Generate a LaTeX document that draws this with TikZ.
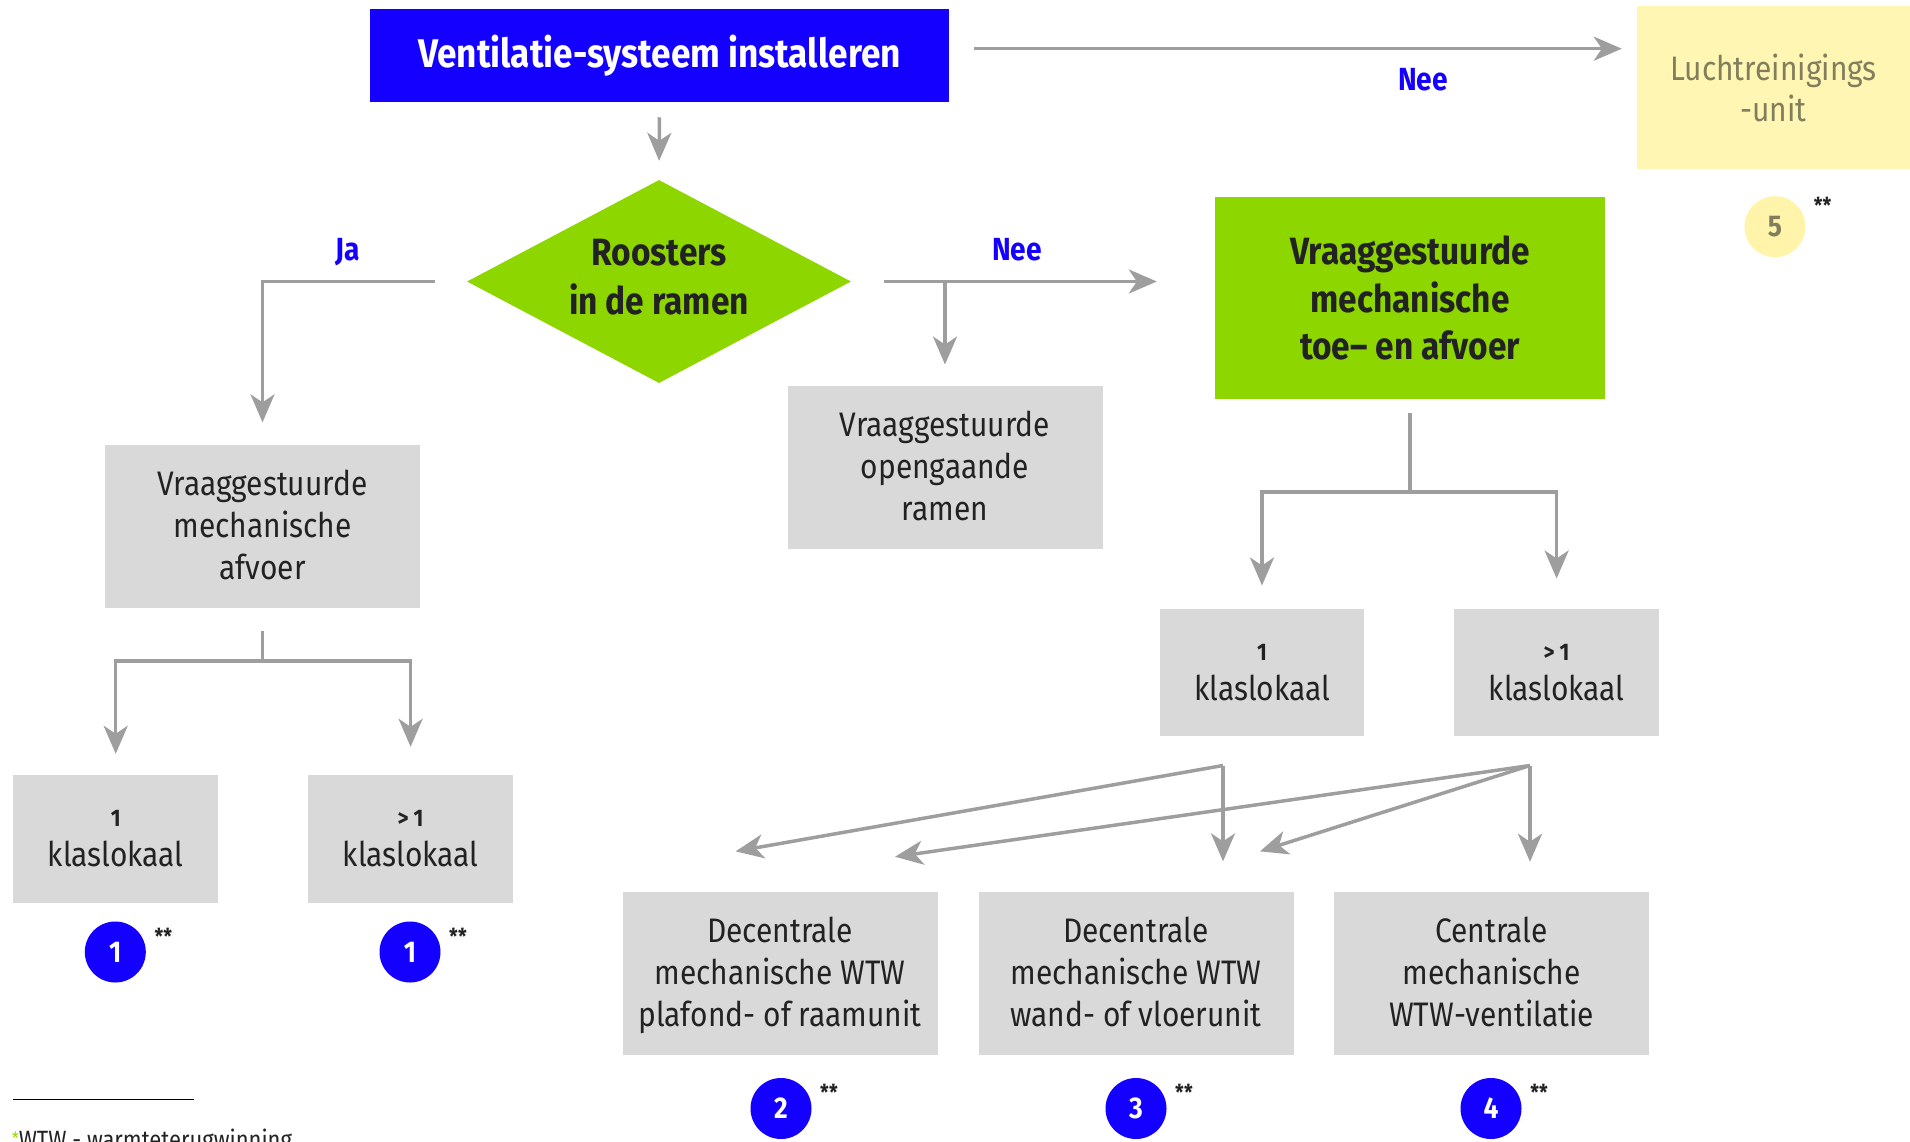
\documentclass[tikz,border=0pt]{standalone}
\usepackage{fontspec}
\setmainfont[FakeStretch=0.88]{Fira Sans}
\usetikzlibrary{arrows.meta,shapes.geometric,calc}
\definecolor{vblue}{RGB}{20,0,255}
\definecolor{vgreen}{RGB}{142,214,0}
\definecolor{boxgray}{RGB}{217,217,217}
\definecolor{arrgray}{RGB}{158,158,158}
\definecolor{vyellow}{RGB}{255,246,180}
\definecolor{cyellow}{RGB}{255,244,170}
\definecolor{olive}{RGB}{128,126,92}
\definecolor{dtext}{RGB}{34,34,34}
\newcommand\myfs[2]{\fontsize{#1pt}{#2pt}\selectfont}
\tikzset{
  titlebox/.style={fill=vblue, text=white, font=\myfs{40}{48}\bfseries, minimum width=579pt, minimum height=93.5pt, inner sep=0pt},
  greybox/.style={fill=boxgray, text=dtext, font=\myfs{34}{42}, minimum width=315pt, minimum height=163.5pt, align=center, inner sep=0pt, text depth=4pt},
  smallbox/.style={fill=boxgray, text=dtext, font=\myfs{34}{40}, minimum width=204.6pt, minimum height=127.6pt, align=center, inner sep=0pt},
  greenbox/.style={fill=vgreen, text=dtext, font=\myfs{38}{47.5}\bfseries, minimum width=390pt, minimum height=202pt, align=center, inner sep=0pt},
  yellowbox/.style={fill=vyellow, text=olive, font=\myfs{34}{41}, minimum width=273pt, minimum height=163pt, align=center, inner sep=0pt},
  decision/.style={diamond, fill=vgreen, text=dtext, font=\myfs{38}{49}\bfseries, minimum width=384pt, minimum height=203pt, aspect=1.89, align=center, inner sep=0pt, text depth=10pt},
  numc/.style={circle, fill=vblue, text=white, font=\myfs{30}{30}\bfseries, minimum size=61pt, inner sep=0pt},
  numy/.style={circle, fill=cyellow, text=olive, font=\myfs{30}{30}\bfseries, minimum size=61pt, inner sep=0pt},
  astx/.style={text=dtext, font=\myfs{22}{22}\bfseries, inner sep=0pt},
  lbl/.style={text=vblue, font=\myfs{32}{32}\bfseries, inner sep=0pt},
  conn/.style={draw=arrgray, line width=3.5pt},
  arr/.style={draw=arrgray, line width=3.5pt, -{Stealth[length=28pt,width=24pt,inset=8pt]}}
}
\begin{document}
\begin{tikzpicture}[x=1pt,y=-1pt]
\useasboundingbox (0,0) rectangle (1910,1141);

% main nodes
\node[titlebox] (top) at (659.5,55.3) {Ventilatie-systeem installeren};
\node[decision] (dia) at (659,281.5) {Roosters\\in de ramen};
\node[yellowbox] (yel) at (1773.5,87.5) {Luchtreinigings\\-unit};
\node[greenbox] (grn) at (1410,298) {Vraaggestuurde\\mechanische\\toe-- en afvoer};
\node[greybox] (boxL) at (262.5,526.3) {Vraaggestuurde\\mechanische\\afvoer};
\node[greybox] (boxO) at (945,467.5) {Vraaggestuurde\\opengaande\\ramen};
\node[smallbox] (k1L) at (115.7,838.8) {{\myfs{24}{40}\bfseries 1}\\klaslokaal};
\node[smallbox] (k2L) at (410.6,838.8) {{\myfs{24}{40}\bfseries > 1}\\klaslokaal};
\node[smallbox] (k1R) at (1262,672.5) {{\myfs{24}{40}\bfseries 1}\\klaslokaal};
\node[smallbox] (k2R) at (1556.6,672.5) {{\myfs{24}{40}\bfseries > 1}\\klaslokaal};
\node[greybox] (d1) at (780,973.3) {Decentrale\\mechanische WTW\\plafond- of raamunit};
\node[greybox] (d2) at (1136,973.3) {Decentrale\\mechanische WTW\\wand- of vloerunit};
\node[greybox] (d3) at (1491.5,973.3) {Centrale\\mechanische\\WTW-ventilatie};

% numbered circles
\node[numc] (n1a) at (115.3,952) {1};
\node[numc] (n1b) at (410,952) {1};
\node[numc] (n2) at (781,1108.5) {2};
\node[numc] (n3) at (1136,1108.5) {3};
\node[numc] (n4) at (1491,1108.5) {4};
\node[numy] (n5) at (1775,226.7) {5};
\foreach \c in {n1a,n1b,n2,n3,n4}{\node[astx] at ($(\c.center)+(48,-16)$) {**};}
\node[astx] at ($(n5.center)+(47.5,-21)$) {**};

% labels
\node[lbl] (lja) at (347.5,252) {Ja};
\node[lbl] (lnee1) at (1017,250) {Nee};
\node[lbl] (lnee2) at (1423,80) {Nee};

% connectors
\draw[arr, shorten <=25pt, shorten >=15pt] ([yshift=6.6pt]top.east) -- ([yshift=6.6pt]top.east -| yel.west);
\draw[arr, shorten <=15pt, shorten >=19pt] (top.south) -- (dia.north);
\draw[arr, shorten <=32pt, shorten >=22pt] (dia.west) -| (boxL.north);
\draw[arr, shorten <=33pt, shorten >=58pt] (dia.east) -- (dia.east -| grn.west);
\draw[arr, shorten >=21pt] (dia.east -| boxO.north) -- (boxO.north);

% left tree
\coordinate (jL) at ($(boxL.south)+(0,52.7)$);
\draw[conn, shorten <=22.7pt] (boxL.south) -- (jL);
\draw[arr, shorten >=21pt] (jL) -| (k1L.north);
\draw[arr, shorten >=28pt] (jL) -| (k2L.north);

% right tree
\coordinate (jR) at ($(grn.south)+(0,93)$);
\draw[conn, shorten <=14pt] (grn.south) -- (jR);
\draw[arr, shorten >=23pt] (jR) -| (k1R.north);
\draw[arr, shorten >=30pt] (jR) -| (k2R.north);

% lower connectors
\coordinate (sA) at ($(k1R.south)+(-39,29)$);
\coordinate (sB) at ($(k2R.south)+(-26.6,29)$);
\coordinate (tA1) at ($(d1.north)+(-44.4,-40)$);
\coordinate (tA2) at ($(d2.north)+(87,-30)$);
\coordinate (tB1) at ($(d1.north)+(115,-34.6)$);
\coordinate (tB2) at ($(d2.north)+(124,-40)$);
\coordinate (tB3) at ($(d3.north)+(38.5,-29.6)$);
\draw[arr] (sA) -- (tA1);
\draw[arr] (sA) -- (tA2);
\draw[arr] (sB) -- (tB1);
\draw[arr] (sB) -- (tB2);
\draw[arr] (sB) -- (tB3);

% footnote
\draw[black, line width=1.3pt] (13,1099.3) -- (194,1099.3);
\node[anchor=base west, inner sep=0pt, text=dtext, font=\myfs{25}{25}] (fn) at (12,1148) {\textcolor{vgreen}{\raisebox{4pt}{\myfs{17}{17}*}}WTW - warmteterugwinning};
\end{tikzpicture}
\end{document}
